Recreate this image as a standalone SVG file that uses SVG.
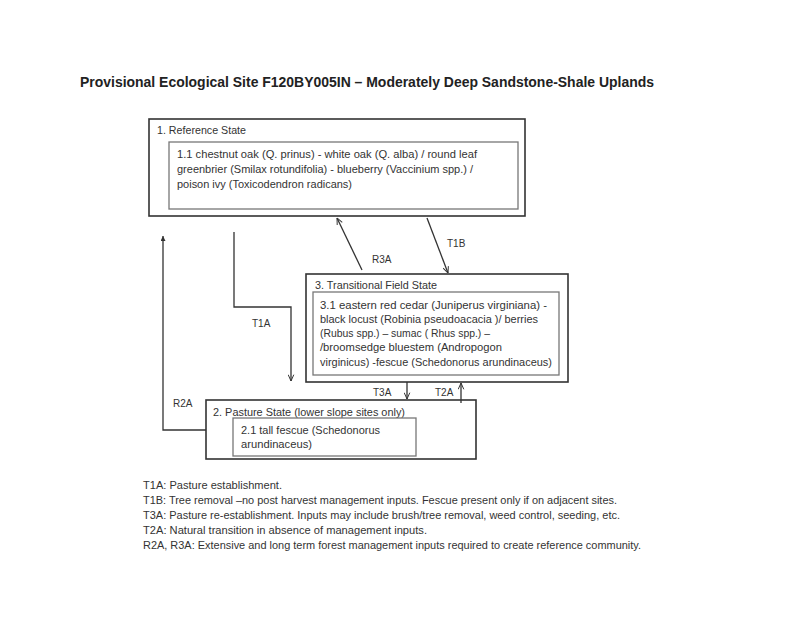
<svg xmlns="http://www.w3.org/2000/svg" width="800" height="617" viewBox="0 0 800 617">
<style>
text{font-family:"Liberation Sans",Arial,sans-serif;fill:#333;font-size:10.5px}
.title{font-size:15px;font-weight:bold;fill:#222}
.lbl{font-size:10px}
.outer{fill:none;stroke:#333;stroke-width:1.6}
.inner{fill:none;stroke:#777;stroke-width:1.3}
.conn{fill:none;stroke:#333;stroke-width:1.3}
</style>
<defs>
<marker id="v" viewBox="0 0 10 10" refX="10" refY="5" markerWidth="7" markerHeight="7" orient="auto" markerUnits="userSpaceOnUse">
<path d="M1,1 L10,5 L1,9" fill="none" stroke="#333" stroke-width="1.4"/>
</marker>
<marker id="f" viewBox="0 0 10 10" refX="10" refY="5" markerWidth="5" markerHeight="5" orient="auto" markerUnits="userSpaceOnUse">
<path d="M0,0 L10,5 L0,10 Z" fill="#333"/>
</marker>
</defs>
<rect width="800" height="617" fill="#fff"/>
<text class="title" x="80" y="87" textLength="574" lengthAdjust="spacingAndGlyphs">Provisional Ecological Site  F120BY005IN – Moderately Deep Sandstone-Shale Uplands</text>

<g id="connectors">
<polyline class="conn" points="234,232 234,307 291,307 291,381" marker-end="url(#v)"/>
<polyline class="conn" points="206,430 163,430 163,236" marker-end="url(#f)"/>
<line class="conn" x1="362" y1="270" x2="337" y2="218" marker-end="url(#v)"/>
<line class="conn" x1="427" y1="218" x2="448" y2="273" marker-end="url(#v)"/>
<line class="conn" x1="407" y1="382" x2="407" y2="399" marker-end="url(#v)"/>
<line class="conn" x1="461" y1="403" x2="461" y2="383" marker-end="url(#v)"/>
<text class="lbl" x="372" y="263">R3A</text>
<text class="lbl" x="447" y="247">T1B</text>
<text class="lbl" x="252" y="327">T1A</text>
<text class="lbl" x="173" y="407">R2A</text>
<text class="lbl" x="373" y="396">T3A</text>
<text class="lbl" x="435" y="396">T2A</text>
</g>

<g id="reference-state">
<rect class="outer" x="149" y="119" width="376" height="97"/>
<text x="157" y="134" textLength="89" lengthAdjust="spacingAndGlyphs">1. Reference State</text>
<rect class="inner" x="169" y="142" width="349" height="67"/>
<text x="177" y="158" textLength="300" lengthAdjust="spacingAndGlyphs">1.1 chestnut oak (Q. prinus) - white oak (Q. alba)  / round leaf</text>
<text x="177" y="173" textLength="296" lengthAdjust="spacingAndGlyphs">greenbrier (Smilax rotundifolia) - blueberry (Vaccinium spp.) /</text>
<text x="177" y="188" textLength="175" lengthAdjust="spacingAndGlyphs">poison ivy (Toxicodendron radicans)</text>
</g>

<g id="transitional-field-state">
<rect class="outer" x="306" y="274" width="262" height="108"/>
<text x="315" y="289" textLength="122" lengthAdjust="spacingAndGlyphs">3. Transitional Field State</text>
<rect class="inner" x="313" y="292" width="246" height="83"/>
<text x="320" y="309" textLength="227" lengthAdjust="spacingAndGlyphs">3.1 eastern red cedar (Juniperus virginiana) -</text>
<text x="320" y="323" textLength="218" lengthAdjust="spacingAndGlyphs">black locust (Robinia pseudoacacia )/ berries</text>
<text x="320" y="337" textLength="170" lengthAdjust="spacingAndGlyphs">(Rubus spp.) – sumac ( Rhus spp.) –</text>
<text x="320" y="351" textLength="182" lengthAdjust="spacingAndGlyphs">/broomsedge bluestem (Andropogon</text>
<text x="320" y="366" textLength="232" lengthAdjust="spacingAndGlyphs">virginicus) -fescue (Schedonorus arundinaceus)</text>
</g>

<g id="pasture-state">
<rect class="outer" x="206" y="400" width="270" height="59"/>
<text x="213" y="416" textLength="192" lengthAdjust="spacingAndGlyphs">2. Pasture State (lower slope sites only)</text>
<rect class="inner" x="233" y="418" width="183" height="38"/>
<text x="241" y="434" textLength="139" lengthAdjust="spacingAndGlyphs">2.1 tall fescue (Schedonorus</text>
<text x="241" y="448" textLength="71" lengthAdjust="spacingAndGlyphs">arundinaceus)</text>
</g>

<g id="legend">
<text x="143" y="489" textLength="139" lengthAdjust="spacingAndGlyphs">T1A: Pasture establishment.</text>
<text x="143" y="504" textLength="474" lengthAdjust="spacingAndGlyphs">T1B: Tree removal –no post harvest management inputs. Fescue present only if on adjacent sites.</text>
<text x="143" y="519" textLength="477" lengthAdjust="spacingAndGlyphs">T3A: Pasture re-establishment.  Inputs may include brush/tree removal, weed control, seeding, etc.</text>
<text x="143" y="534" textLength="284" lengthAdjust="spacingAndGlyphs">T2A: Natural transition in absence of management inputs.</text>
<text x="143" y="549" textLength="498" lengthAdjust="spacingAndGlyphs">R2A, R3A: Extensive and long term forest management inputs required to create reference community.</text>
</g>
</svg>
